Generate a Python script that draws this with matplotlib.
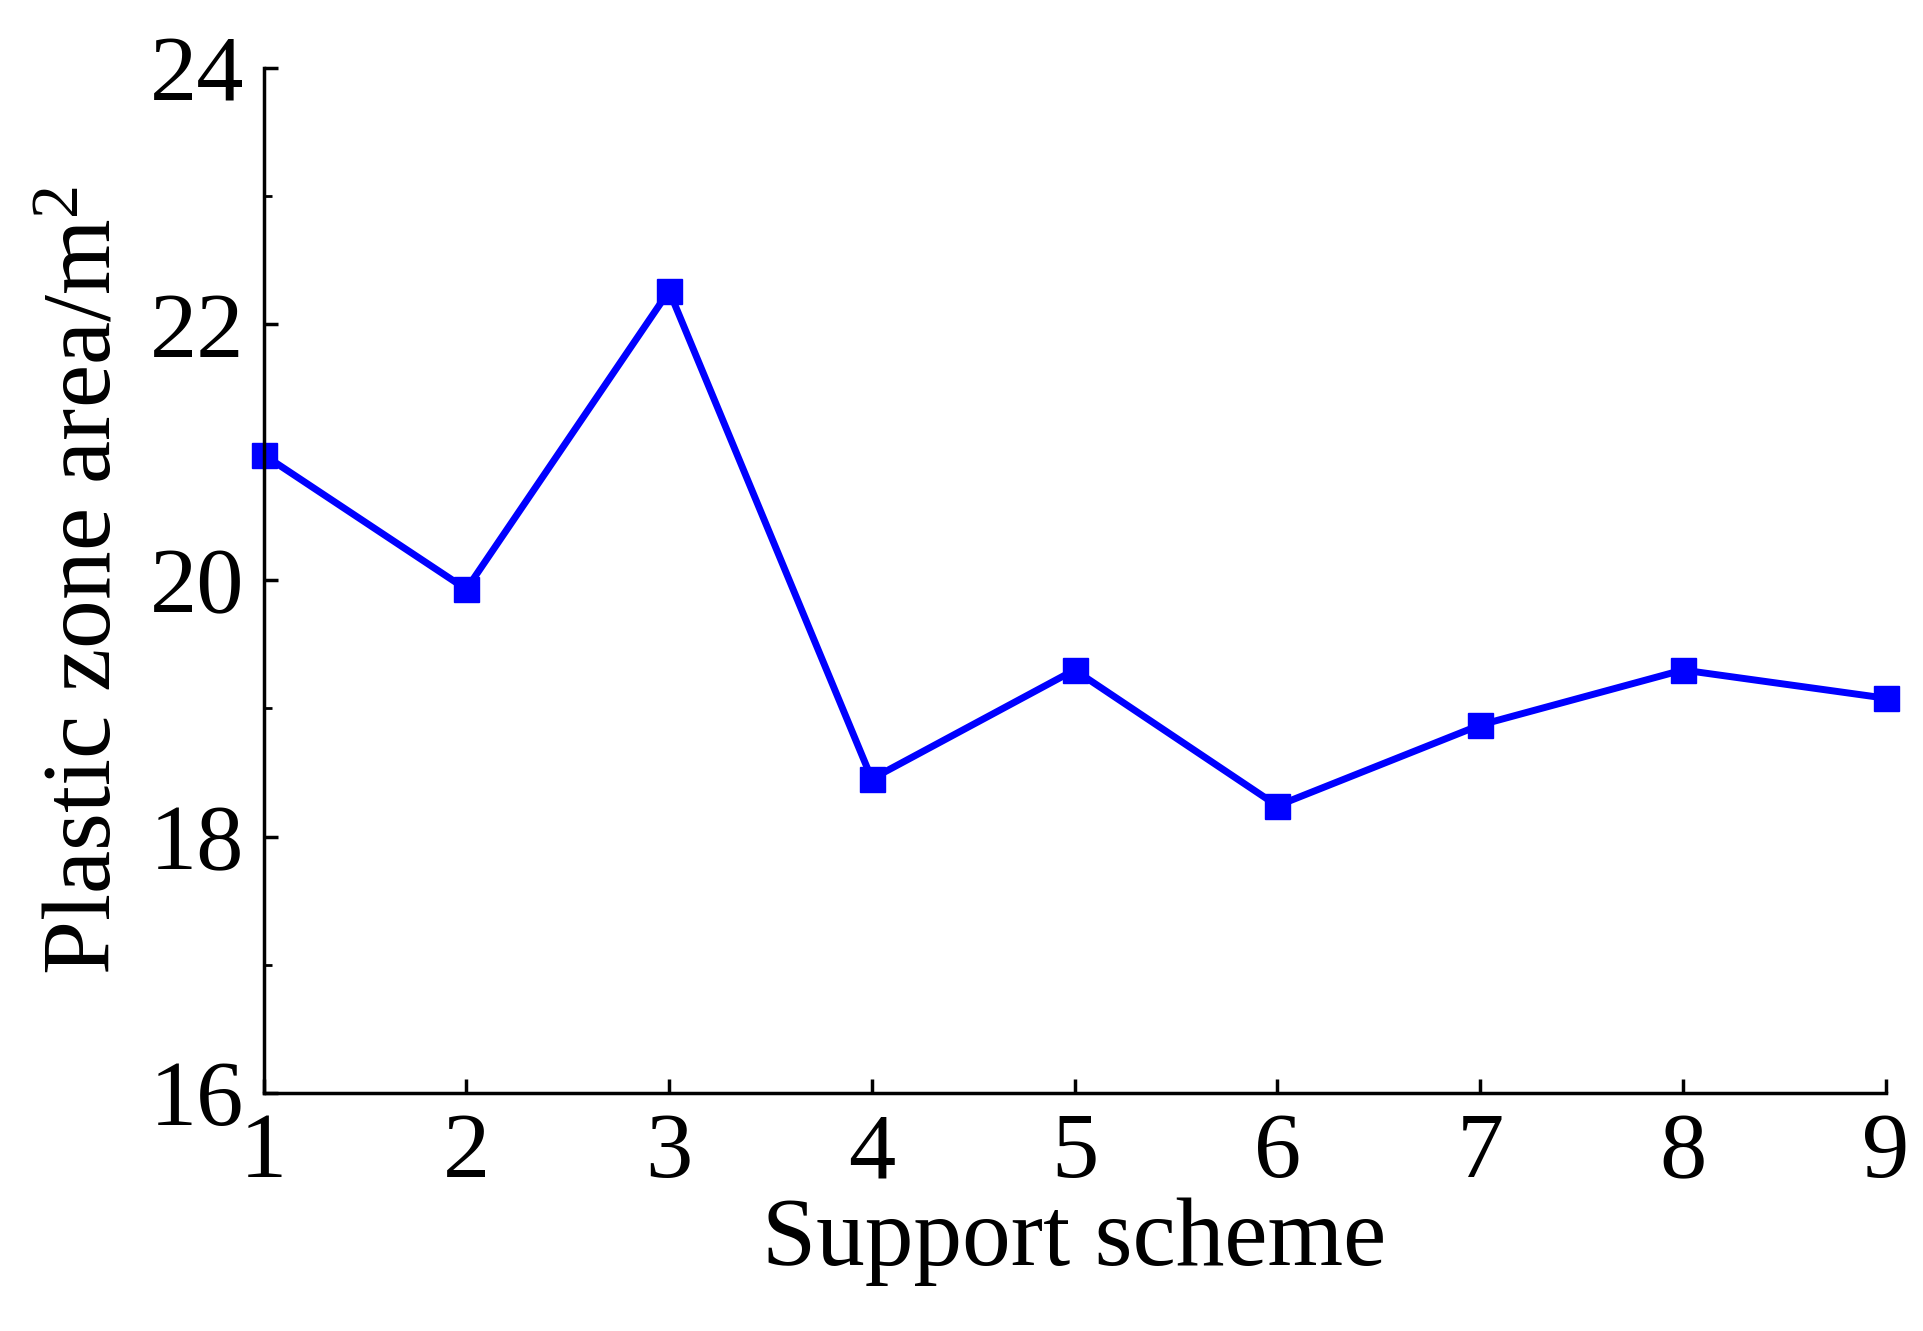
import matplotlib
matplotlib.use("Agg")
import matplotlib.pyplot as plt

schemes = [1, 2, 3, 4, 5, 6, 7, 8, 9]
area = [20.98, 19.93, 22.26, 18.45, 19.30, 18.24, 18.87, 19.30, 19.08]
yticks = [16, 18, 20, 22, 24]

plt.rcParams['font.family'] = ['Liberation Serif', 'DejaVu Serif']
fig = plt.figure(figsize=(19.24, 13.31), dpi=100)
ax = fig.add_axes([0.137, 0.179, 0.843, 0.770])
ax.plot(schemes, area, color='#0000ff', lw=5, marker='s', ms=18, clip_on=False)
ax.set_xlim(1, 9)
ax.set_ylim(16, 24)
ax.set_xticks(schemes)
ax.set_yticks(yticks)
ax.set_yticks([17, 19, 21, 23], minor=True)
for s in ['top', 'right']:
    ax.spines[s].set_visible(False)
for s in ['left', 'bottom']:
    ax.spines[s].set_linewidth(2.5)
ax.tick_params(which='major', direction='in', length=10, width=2.5, labelsize=68)
ax.tick_params(which='minor', direction='in', length=6, width=2)
ax.tick_params(axis='x', pad=14)
ax.tick_params(axis='y', pad=14)
ax.set_xlabel('Support scheme', fontsize=70, labelpad=0)
ax.set_ylabel('Plastic zone area/m$\\mathregular{^2}$', fontsize=70, labelpad=14)
fig.savefig('out.png', dpi=100)
